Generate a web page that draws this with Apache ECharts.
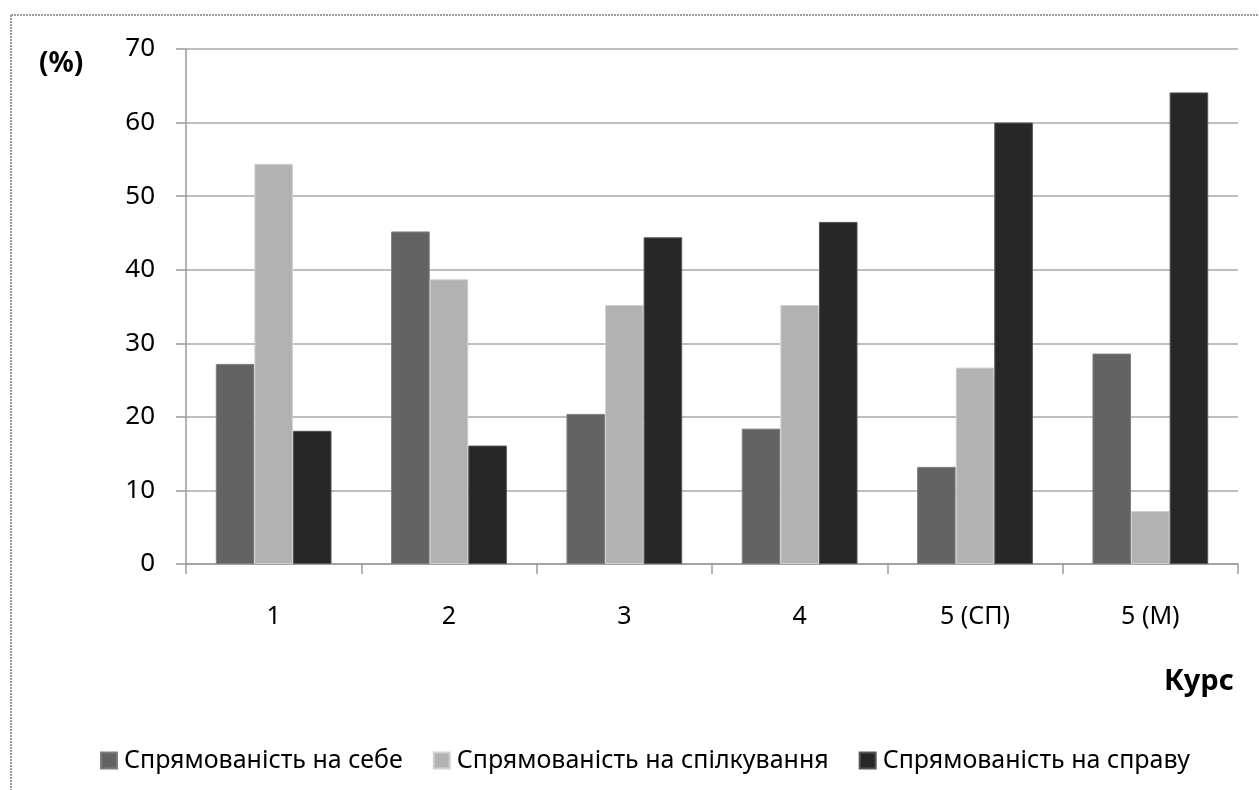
<!DOCTYPE html>
<html>
<head>
<meta charset="utf-8">
<script src="https://cdn.jsdelivr.net/npm/echarts@6/dist/echarts.min.js"></script>
<style>
  html, body { margin: 0; padding: 0; background: #fff; }
  #chart { width: 1259px; height: 790px; }
</style>
</head>
<body>
<div id="chart"></div>
<script>
// Courses (x categories)
const courses = ['1', '2', '3', '4', '5 (СП)', '5 (М)'];
// Y axis range and step (%)
const yMin = 0, yMax = 70, yStep = 10;
// Series names
const seriesNames = ['Спрямованість на себе', 'Спрямованість на спілкування', 'Спрямованість на справу'];
// Values per course, %
const selfValues = [27.2, 45.2, 20.4, 18.4, 13.2, 28.6];
const commValues = [54.4, 38.7, 35.2, 35.2, 26.7, 7.2];
const workValues = [18.1, 16.1, 44.4, 46.5, 60.0, 64.1];

const font = 'Noto Sans';
const colors = ['#636363', '#b2b2b2', '#272727'];
const borders = ['#7d7d7d', '#d2d2d2', '#555555'];
const valueSets = [selfValues, commValues, workValues];

const chart = echarts.init(document.getElementById('chart'), null, { renderer: 'canvas' });
chart.setOption({
  animation: false,
  backgroundColor: '#ffffff',
  textStyle: { fontFamily: font },
  grid: { left: 186, right: 21, top: 49, bottom: 226, containLabel: false },
  xAxis: {
    type: 'category',
    data: courses,
    boundaryGap: true,
    axisLine: { lineStyle: { color: '#9a9a9a', width: 1.5 } },
    axisTick: { show: true, length: 10, lineStyle: { color: '#9a9a9a', width: 1.5 } },
    axisLabel: { color: '#000', fontSize: 25, fontFamily: font, margin: 40 },
    splitLine: { show: false }
  },
  yAxis: {
    type: 'value',
    min: yMin, max: yMax, interval: yStep,
    axisLine: { show: true, lineStyle: { color: '#9a9a9a', width: 1.5 } },
    axisTick: { show: true, length: 10, lineStyle: { color: '#9a9a9a', width: 1.5 } },
    axisLabel: { color: '#000', fontSize: 26, fontFamily: font, margin: 31 },
    splitLine: { show: true, lineStyle: { color: '#a8a8a8', width: 1.5 } }
  },
  legend: {
    bottom: 12,
    left: 95,
    itemWidth: 16,
    itemHeight: 16,
    itemGap: 30,
    icon: 'rect',
    textStyle: { color: '#000', fontSize: 25, fontFamily: font, padding: [0, 0, 0, 2] },
    data: seriesNames
  },
  series: seriesNames.map((name, i) => ({
    name: name,
    type: 'bar',
    data: valueSets[i],
    barGap: '0%',
    barCategoryGap: '34%',
    itemStyle: { color: colors[i], borderColor: borders[i], borderWidth: 1 }
  })),
  graphic: [
    // dotted outer frame (top and left edges)
    { type: 'line', shape: { x1: 11, y1: 15, x2: 1259, y2: 15 },
      style: { stroke: '#9c9c9c', lineWidth: 2, lineDash: [2, 1] } },
    { type: 'line', shape: { x1: 11, y1: 15, x2: 11, y2: 790 },
      style: { stroke: '#9c9c9c', lineWidth: 2, lineDash: [2, 1] } },
    { type: 'text', left: 39, top: 50,
      style: { text: '(%)', font: 'bold 28px "Noto Sans"', fill: '#000' } },
    { type: 'text', left: 1164, top: 667,
      style: { text: 'Курс', font: 'bold 29px "Noto Sans"', fill: '#000' } }
  ]
});
</script>
</body>
</html>
